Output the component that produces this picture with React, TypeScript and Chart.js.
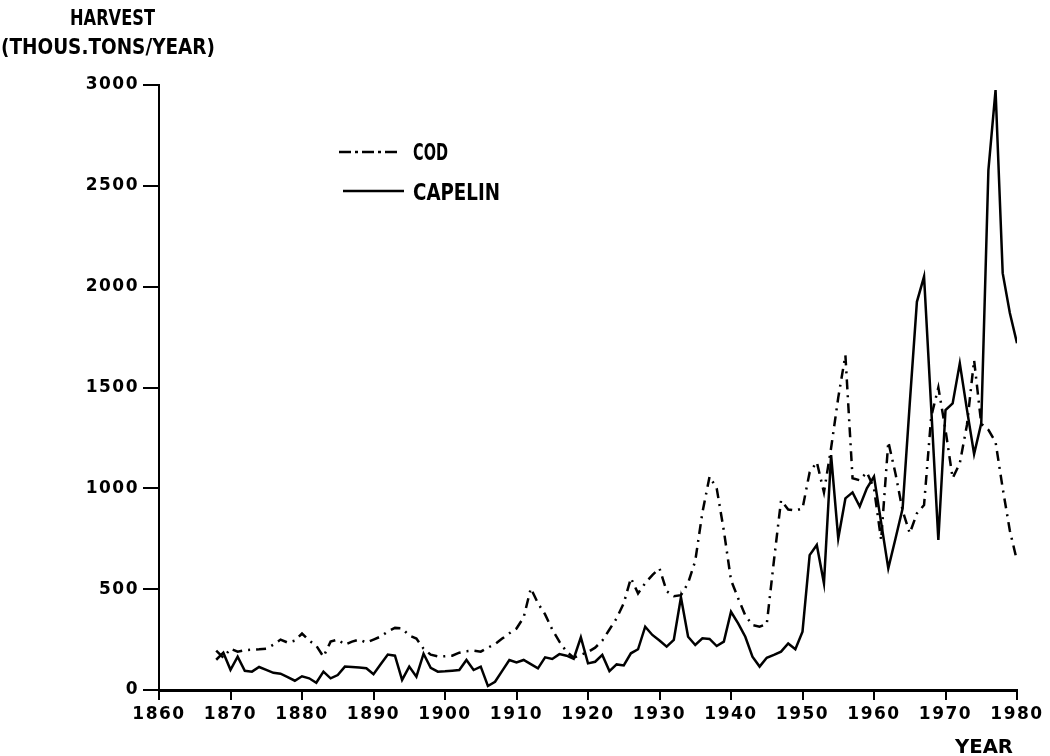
import React, { useEffect, useRef } from "react";
import { Chart, registerables } from "chart.js";

Chart.register(...registerables);

const years = [
  1868, 1869,
  1870, 1871, 1872, 1873, 1874, 1875, 1876, 1877, 1878, 1879,
  1880, 1881, 1882, 1883, 1884, 1885, 1886, 1887, 1888, 1889,
  1890, 1891, 1892, 1893, 1894, 1895, 1896, 1897, 1898, 1899,
  1900, 1901, 1902, 1903, 1904, 1905, 1906, 1907, 1908, 1909,
  1910, 1911, 1912, 1913, 1914, 1915, 1916, 1917, 1918, 1919,
  1920, 1921, 1922, 1923, 1924, 1925, 1926, 1927, 1928, 1929,
  1930, 1931, 1932, 1933, 1934, 1935, 1936, 1937, 1938, 1939,
  1940, 1941, 1942, 1943, 1944, 1945, 1946, 1947, 1948, 1949,
  1950, 1951, 1952, 1953, 1954, 1955, 1956, 1957, 1958, 1959,
  1960, 1961, 1962, 1963, 1964, 1965, 1966, 1967, 1968, 1969,
  1970, 1971, 1972, 1973, 1974, 1975, 1976, 1977, 1978, 1979,
  1980,
];

const capelin = [
  150, 185,
  100, 165, 95, 91, 114, 100, 85, 81, 64, 46,
  68, 58, 36, 91, 58, 74, 116, 114, 112, 108,
  78, 128, 176, 170, 50, 116, 66, 180, 110, 91,
  93, 96, 99, 149, 99, 116, 20, 41, 95, 149,
  137, 149, 128, 107, 162, 154, 178, 170, 155, 261,
  132, 140, 174, 94, 127, 122, 182, 202, 314, 273,
  245, 215, 248, 460, 264, 223, 256, 253, 218, 240,
  388, 330, 264, 165, 116, 160, 174, 190, 231, 202,
  289, 669, 719, 529, 1165, 752, 950, 980, 910, 1000,
  1058, 830, 603, 750, 900, 1420, 1925, 2050, 1400, 744,
  1388, 1421, 1620, 1390, 1170, 1322, 2578, 2975, 2067, 1869,
  1720,
];

const cod = [
  195, 160,
  205, 190, 198, 200, 202, 205, 225, 250, 235, 245,
  280, 245, 220, 165, 240, 250, 225, 240, 250, 235,
  250, 265, 290, 308, 305, 270, 255, 205, 175, 167,
  167, 170, 185, 192, 195, 190, 210, 228, 255, 281,
  305, 360, 504, 430, 375, 300, 240, 190, 160, 175,
  188, 210, 245, 300, 355, 430, 555, 479, 530, 570,
  603, 490, 465, 470, 530, 640, 880, 1058, 1000, 790,
  545, 455, 370, 322, 314, 327, 640, 940, 895, 890,
  900, 1080, 1130, 980, 1200, 1450, 1660, 1050, 1040, 1080,
  1000, 744, 1231, 1074, 890, 777, 876, 917, 1355, 1500,
  1290, 1050, 1124, 1314, 1636, 1320, 1290, 1230, 1000, 790,
  640,
];

const xTicks = [1860, 1870, 1880, 1890, 1900, 1910, 1920, 1930, 1940, 1950, 1960, 1970, 1980];
const yTicks = [0, 500, 1000, 1500, 2000, 2500, 3000];

const yTitleLines = ["HARVEST", "(THOUS.TONS/YEAR)"];
const xTitle = "YEAR";
const seriesNames = ["COD", "CAPELIN"];

const NARROW = "'DejaVu Sans Condensed', 'Liberation Sans Narrow', 'DejaVu Sans', sans-serif";
const TICKFONT = "'DejaVu Sans', sans-serif";

const overlayPlugin = {
  id: "overlay",
  beforeDraw(chart: any) {
    (chart.ctx as any).letterSpacing = "1.5px";
  },
  afterDraw(chart: any) {
    const ctx: CanvasRenderingContext2D = chart.ctx;
    (ctx as any).letterSpacing = "0px";
    const fit = (text: string, x: number, base: number, w: number, font: string) => {
      ctx.font = font;
      const m = ctx.measureText(text).width;
      ctx.save();
      ctx.translate(x, base);
      ctx.scale(w / m, 1);
      ctx.fillStyle = "#000";
      ctx.textBaseline = "alphabetic";
      ctx.textAlign = "left";
      ctx.fillText(text, 0, 0);
      ctx.restore();
    };
    ctx.save();
    fit(yTitleLines[0], 70, 25, 85, `bold 21px ${NARROW}`);
    fit(yTitleLines[1], 1, 54, 214, `bold 21px ${NARROW}`);
    fit(xTitle, 955, 753, 58, `bold 19px ${TICKFONT}`);

    // legend
    ctx.strokeStyle = "#000";
    ctx.lineWidth = 2.5;
    ctx.setLineDash([12, 4, 3, 4]);
    ctx.beginPath();
    ctx.moveTo(339, 152);
    ctx.lineTo(401, 152);
    ctx.stroke();
    ctx.setLineDash([]);
    ctx.beginPath();
    ctx.moveTo(343, 191);
    ctx.lineTo(404, 191);
    ctx.stroke();
    fit(seriesNames[0], 413, 160, 35, `bold 23px ${NARROW}`);
    fit(seriesNames[1], 413, 200, 87, `bold 23px ${NARROW}`);
    ctx.restore();
  },
};

export default function App() {
  const ref = useRef<HTMLCanvasElement | null>(null);

  useEffect(() => {
    if (!ref.current) return;
    const chart = new Chart(ref.current, {
      type: "line",
      data: {
        datasets: [
          {
            label: seriesNames[0],
            data: years.map((y, i) => ({ x: y, y: cod[i] })),
            borderColor: "#000",
            borderWidth: 2.5,
            borderDash: [10, 6, 2, 6],
            pointRadius: 0,
            tension: 0,
            fill: false,
          },
          {
            label: seriesNames[1],
            data: years.map((y, i) => ({ x: y, y: capelin[i] })),
            borderColor: "#000",
            borderWidth: 2.5,
            pointRadius: 0,
            tension: 0,
            fill: false,
          },
        ],
      },
      options: {
        responsive: false,
        animation: false,
        devicePixelRatio: 1,
        layout: { padding: { top: 85, right: 33, bottom: 0, left: 0 } },
        plugins: { legend: { display: false }, tooltip: { enabled: false } },
        scales: {
          x: {
            type: "linear",
            min: 1860,
            max: 1980,
            afterBuildTicks: (s: any) => {
              s.ticks = xTicks.map((v) => ({ value: v }));
            },
            afterFit: (s: any) => {
              s.height = 66;
            },
            ticks: {
              callback: (v: any) => String(v),
              color: "#000",
              font: { family: TICKFONT, weight: "bold", size: 17 },
              padding: 4,
              maxRotation: 0,
              autoSkip: false,
            },
            grid: {
              drawOnChartArea: false,
              drawTicks: true,
              tickLength: 10,
              color: "#000",
              lineWidth: 2,
            },
            border: { color: "#000", width: 3 },
          },
          y: {
            min: 0,
            max: 3000,
            afterBuildTicks: (s: any) => {
              s.ticks = yTicks.map((v) => ({ value: v }));
            },
            afterFit: (s: any) => {
              s.width = 159;
            },
            ticks: {
              callback: (v: any) => String(v),
              color: "#000",
              font: { family: TICKFONT, weight: "bold", size: 17 },
              padding: 4,
            },
            grid: {
              drawOnChartArea: false,
              drawTicks: true,
              tickLength: 16,
              color: "#000",
              lineWidth: 2,
            },
            border: { color: "#000", width: 2 },
          },
        },
      },
      plugins: [overlayPlugin],
    } as any);
    return () => chart.destroy();
  }, []);

  return (
    <div style={{ position: "absolute", left: 0, top: 0, width: 1050, height: 756, background: "#fff" }}>
      <canvas ref={ref} width={1050} height={756} style={{ display: "block" }} />
    </div>
  );
}
